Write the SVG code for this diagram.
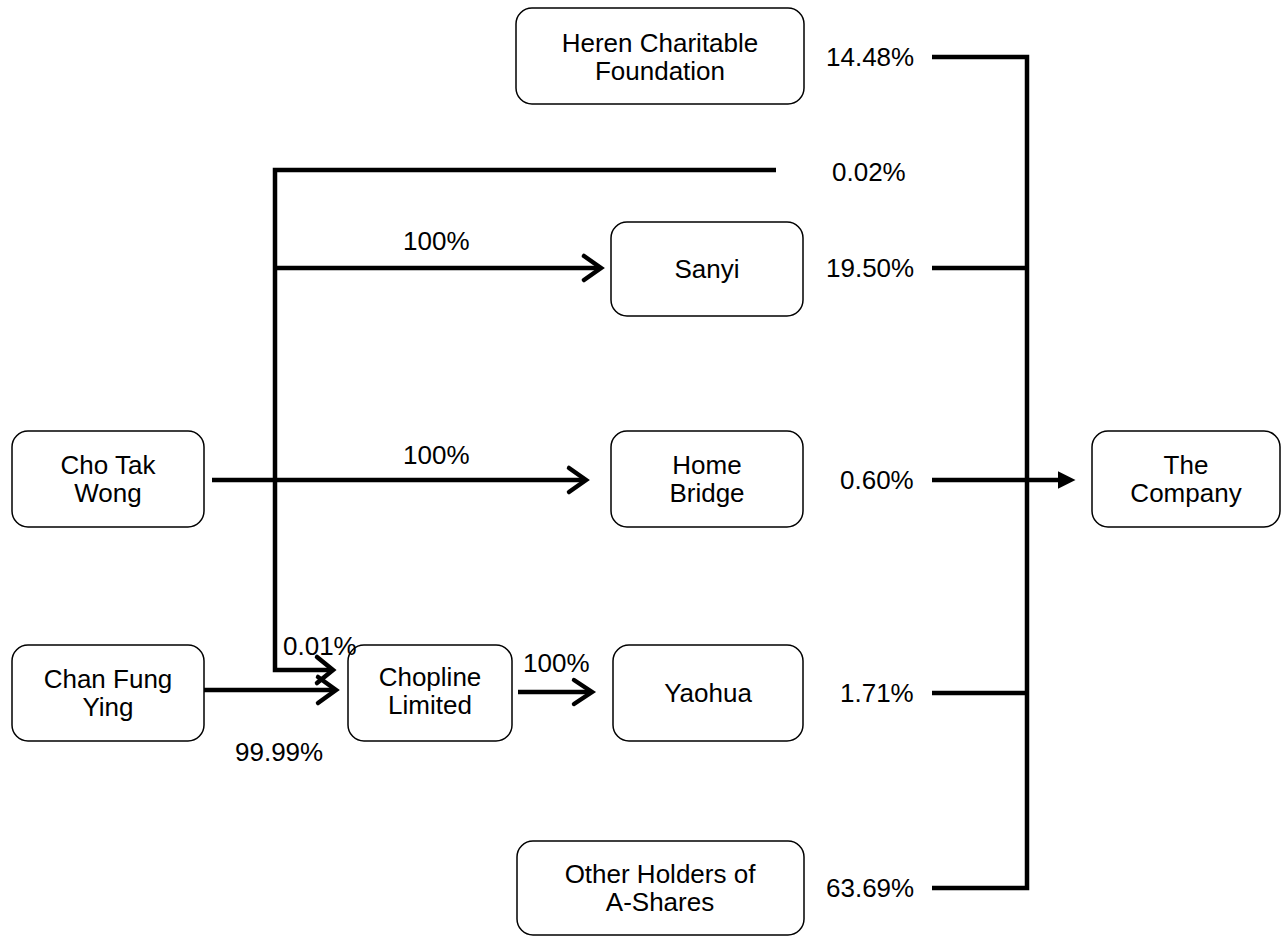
<svg xmlns="http://www.w3.org/2000/svg" width="1281" height="937" viewBox="0 0 1281 937">
<style>
.box{fill:#fff;stroke:#000;stroke-width:1.5}
.t{font-family:"Liberation Sans",Arial,sans-serif;font-size:26px;fill:#000;text-anchor:middle}
.p{font-family:"Liberation Sans",Arial,sans-serif;font-size:26px;fill:#000}
.ln{fill:none;stroke:#000;stroke-width:4.5}
.chev{fill:none;stroke:#000;stroke-width:4.5;stroke-linecap:round;stroke-linejoin:miter}
</style>
<defs>
<marker id="tri" markerWidth="4" markerHeight="4" refX="1" refY="2" orient="auto" markerUnits="strokeWidth">
<path d="M0,0 L4,2 L0,4 z" fill="#000"/>
</marker>
</defs>
<rect width="1281" height="937" fill="#fff"/>
<g id="connectors">
<path class="ln" d="M932,57 H1027 V888 H932"/>
<path class="ln" d="M932,268 H1027"/>
<path class="ln" d="M932,693 H1027"/>
<path class="ln" d="M932,480 H1062" marker-end="url(#tri)"/>
<path class="ln" d="M776,170 H275 V670 H330"/>
<path class="chev" d="M317,657 L333,670 L317,683"/>
<path class="ln" d="M275,268 H600"/>
<path class="chev" d="M584,256 L601,268 L584,280"/>
<path class="ln" d="M212,480 H585"/>
<path class="chev" d="M569,468 L586,480 L569,492"/>
<path class="ln" d="M203,690 H333"/>
<path class="chev" d="M318,677 L336,690 L318,703"/>
<path class="ln" d="M518,692 H590"/>
<path class="chev" d="M574,680 L592,692 L574,704"/>
</g>
<g id="heren"><rect class="box" x="516" y="8" width="288" height="96" rx="16"/><text class="t" x="660" y="52">Heren Charitable</text><text class="t" x="660" y="80">Foundation</text></g>
<g id="sanyi"><rect class="box" x="611" y="222" width="192" height="94" rx="16"/><text class="t" x="707" y="278">Sanyi</text></g>
<g id="chotakwong"><rect class="box" x="12" y="431" width="192" height="96" rx="16"/><text class="t" x="108" y="474">Cho Tak</text><text class="t" x="108" y="502">Wong</text></g>
<g id="homebridge"><rect class="box" x="611" y="431" width="192" height="96" rx="16"/><text class="t" x="707" y="474">Home</text><text class="t" x="707" y="502">Bridge</text></g>
<g id="company"><rect class="box" x="1092" y="431" width="188" height="96" rx="16"/><text class="t" x="1186" y="474">The</text><text class="t" x="1186" y="502">Company</text></g>
<g id="chanfungying"><rect class="box" x="12" y="645" width="192" height="96" rx="16"/><text class="t" x="108" y="688">Chan Fung</text><text class="t" x="108" y="716">Ying</text></g>
<g id="chopline"><rect class="box" x="348" y="645" width="164" height="96" rx="16"/><text class="t" x="430" y="686">Chopline</text><text class="t" x="430" y="714">Limited</text></g>
<g id="yaohua"><rect class="box" x="613" y="645" width="190" height="96" rx="16"/><text class="t" x="708" y="702">Yaohua</text></g>
<g id="others"><rect class="box" x="517" y="841" width="287" height="94" rx="16"/><text class="t" x="660" y="883">Other Holders of</text><text class="t" x="660" y="911">A-Shares</text></g>
<g id="labels">
<text class="p" x="826" y="66">14.48%</text>
<text class="p" x="832" y="181">0.02%</text>
<text class="p" x="403" y="250">100%</text>
<text class="p" x="826" y="277">19.50%</text>
<text class="p" x="403" y="464">100%</text>
<text class="p" x="840" y="489">0.60%</text>
<text class="p" x="283" y="655">0.01%</text>
<text class="p" x="235" y="761">99.99%</text>
<text class="p" x="523" y="672">100%</text>
<text class="p" x="840" y="702">1.71%</text>
<text class="p" x="826" y="897">63.69%</text>
</g>
</svg>
